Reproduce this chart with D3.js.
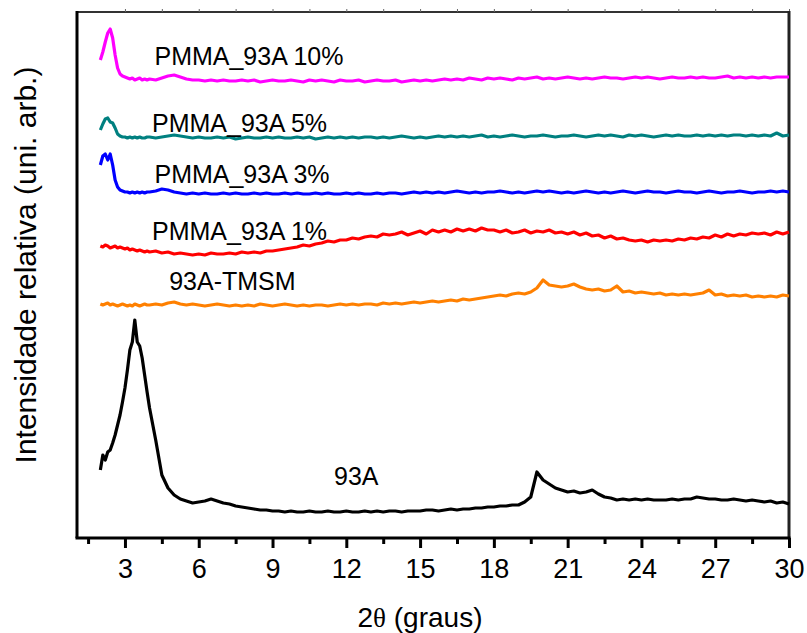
<!DOCTYPE html>
<html lang="en">

<head>
    <meta charset="UTF-8">
    <title>DRX 93A / PMMA</title>
    <script src="https://d3js.org/d3.v7.min.js"></script>

    <style>
        body {
            margin: 0;
            background: #fff;
            font-family: 'Liberation Sans', Arial, sans-serif;
        }

        svg {
            display: block;
        }

        .curve {
            fill: none;
            stroke-width: 3.2;
            stroke-linejoin: round;
        }

        .label {
            font-size: 25px;
            fill: #000;
        }

        .ticks text {
            font-size: 27px;
            font-family: 'Liberation Sans', Arial, sans-serif;
        }
    </style>

</head>

<body>
    <svg></svg>
    <script>
        const width = 807;
        const height = 633;

        // 2theta grid (graus): 0.1 steps up to 3.9, then 0.25 steps
        const twoTheta = [
            2.0, 2.1, 2.2, 2.3, 2.4, 2.5, 2.6, 2.7, 2.8, 2.9,
            3.0, 3.1, 3.2, 3.3, 3.4, 3.5, 3.6, 3.7, 3.8, 3.9,
            4, 4.25, 4.5, 4.75, 5, 5.25, 5.5, 5.75, 6, 6.25, 6.5, 6.75,
            7, 7.25, 7.5, 7.75, 8, 8.25, 8.5, 8.75, 9, 9.25, 9.5, 9.75,
            10, 10.25, 10.5, 10.75, 11, 11.25, 11.5, 11.75, 12, 12.25, 12.5, 12.75,
            13, 13.25, 13.5, 13.75, 14, 14.25, 14.5, 14.75, 15, 15.25, 15.5, 15.75,
            16, 16.25, 16.5, 16.75, 17, 17.25, 17.5, 17.75, 18, 18.25, 18.5, 18.75,
            19, 19.25, 19.5, 19.75, 20, 20.25, 20.5, 20.75, 21, 21.25, 21.5, 21.75,
            22, 22.25, 22.5, 22.75, 23, 23.25, 23.5, 23.75, 24, 24.25, 24.5, 24.75,
            25, 25.25, 25.5, 25.75, 26, 26.25, 26.5, 26.75, 27, 27.25, 27.5, 27.75,
            28, 28.25, 28.5, 28.75, 29, 29.25, 29.5, 29.75, 30
        ];

        // intensities (arb. units, curves already offset as in the figure)
        const pmma10 = [
            478, 486, 496, 505, 509, 500, 483, 470, 464, 462,
            461, 460, 459, 460, 458, 459, 460, 458, 459, 458,
            459, 458, 460, 462, 463, 461, 459, 458, 458, 457, 458, 457,
            458, 457, 457, 458, 457, 458, 456, 457, 458, 457, 457, 458,
            457, 456, 458, 457, 458, 457, 456, 458, 457, 457, 458, 456,
            457, 458, 457, 457, 458, 456, 457, 458, 457, 458, 457, 458,
            459, 458, 459, 458, 460, 459, 458, 460, 459, 460, 459, 458,
            460, 459, 460, 461, 459, 460, 459, 460, 461, 460, 459, 460,
            459, 460, 461, 460, 460, 459, 460, 461, 460, 461, 460, 459,
            460, 461, 460, 460, 461, 460, 461, 460, 460, 461, 462, 460,
            461, 460, 461, 460, 461, 460, 461, 461, 461
        ];
        const pmma5 = [
            408, 414, 419, 420, 416, 415, 410, 404, 402, 401,
            401, 400, 401, 400, 401, 400, 401, 400, 400, 401,
            401, 400, 401, 402, 403, 402, 401, 400, 401, 400, 400, 401,
            400, 401, 399, 400, 401, 400, 400, 401, 400, 401, 400, 400,
            401, 400, 401, 399, 400, 401, 400, 401, 400, 401, 400, 401,
            401, 400, 401, 400, 401, 402, 401, 400, 401, 400, 401, 402,
            401, 402, 401, 402, 401, 402, 403, 401, 402, 401, 402, 403,
            402, 401, 402, 402, 403, 402, 401, 402, 402, 403, 402, 401,
            402, 403, 402, 403, 402, 401, 403, 402, 403, 402, 401, 402,
            403, 402, 403, 402, 402, 403, 402, 403, 402, 403, 402, 403,
            403, 402, 403, 402, 403, 402, 405, 402, 403
        ];
        const pmma3 = [
            373, 382, 384, 378, 384, 373, 358, 351, 348, 347,
            346, 346, 345, 346, 345, 346, 345, 346, 345, 346,
            346, 347, 349, 348, 346, 345, 344, 345, 344, 345, 344, 344,
            345, 344, 345, 344, 344, 345, 344, 345, 344, 344, 345, 344,
            345, 344, 344, 345, 344, 345, 344, 344, 345, 344, 345, 344,
            344, 345, 344, 345, 345, 344, 345, 346, 345, 346, 345, 346,
            345, 346, 347, 346, 345, 346, 345, 346, 346, 347, 346, 345,
            346, 345, 346, 347, 346, 347, 346, 345, 346, 345, 346, 347,
            346, 345, 346, 345, 346, 347, 346, 345, 346, 347, 346, 346,
            345, 346, 347, 346, 346, 345, 346, 347, 346, 345, 346, 346,
            347, 346, 345, 346, 346, 347, 346, 347, 346
        ];
        const pmma1 = [
            292, 291, 293, 292, 290, 291, 292, 290, 291, 290,
            289, 290, 288, 289, 288, 287, 288, 287, 286, 287,
            286, 287, 285, 286, 284, 285, 284, 283, 284, 283, 285, 284,
            284, 285, 284, 286, 285, 286, 285, 287, 287, 288, 289, 290,
            291, 293, 292, 294, 295, 297, 296, 298, 298, 300, 299, 301,
            302, 301, 304, 303, 304, 306, 303, 305, 307, 304, 308, 306,
            308, 306, 309, 307, 309, 307, 310, 308, 308, 306, 308, 305,
            306, 308, 305, 307, 306, 308, 305, 306, 304, 306, 303, 305,
            302, 303, 300, 302, 299, 300, 298, 297, 298, 296, 298, 297,
            298, 297, 299, 298, 300, 299, 301, 300, 303, 301, 304, 302,
            304, 303, 305, 304, 305, 303, 306, 304, 306
        ];
        const tmsm = [
            234, 233, 234, 235, 233, 234, 233, 232, 233, 234,
            233, 232, 233, 232, 234, 233, 232, 233, 234, 233,
            233, 234, 233, 235, 236, 234, 233, 234, 233, 232, 233, 234,
            233, 232, 233, 232, 233, 232, 234, 233, 232, 233, 234, 233,
            232, 233, 232, 233, 233, 232, 233, 234, 233, 234, 233, 234,
            234, 233, 235, 234, 235, 234, 235, 236, 235, 236, 237, 236,
            237, 238, 237, 239, 238, 239, 240, 241, 242, 243, 242, 244,
            245, 244, 246, 250, 258, 253, 252, 251, 252, 254, 251, 249,
            248, 249, 247, 248, 252, 246, 247, 245, 246, 245, 244, 245,
            243, 244, 243, 244, 243, 244, 245, 248, 243, 244, 242, 243,
            242, 243, 241, 242, 241, 242, 241, 243, 242
        ];
        const clay93A = [
            68, 83, 78, 86, 88, 95, 103, 113, 123, 136,
            150, 168, 188, 196, 218, 196, 192, 180, 163, 146,
            130, 98, 63, 50, 43, 39, 37, 35, 36, 37, 39, 37,
            35, 34, 32, 31, 30, 29, 28, 28, 27, 27, 26, 27,
            26, 26, 27, 26, 26, 27, 26, 26, 27, 26, 26, 27,
            26, 27, 26, 27, 27, 26, 27, 27, 27, 28, 28, 27,
            28, 29, 28, 29, 29, 30, 30, 31, 31, 32, 32, 33,
            33, 36, 41, 66, 58, 54, 50, 48, 46, 47, 45, 46,
            48, 44, 41, 40, 38, 39, 38, 39, 38, 39, 38, 38,
            38, 39, 38, 39, 39, 41, 40, 39, 39, 38, 38, 39,
            38, 37, 38, 37, 36, 37, 35, 36, 34
        ];

        const seriesNames = ["PMMA_93A 10%", "PMMA_93A 5%", "PMMA_93A 3%", "PMMA_93A 1%", "93A-TMSM", "93A"];
        const seriesValues = [pmma10, pmma5, pmma3, pmma1, tmsm, clay93A];
        const seriesColors = ["#ff00ff", "#008080", "#0000ff", "#ff0000", "#ff8000", "#000000"];
        // where each name sits: [2theta, intensity]
        const labelAt = [[4.2, 473], [4.1, 406], [4.2, 355], [4.1, 298], [4.8, 248], [11.5, 53]];

        const majorTicks = [3, 6, 9, 12, 15, 18, 21, 24, 27, 30];
        const minorTicks = [1.5, 4.5, 7.5, 10.5, 13.5, 16.5, 19.5, 22.5, 25.5, 28.5];

        const margin = { left: 77, right: 18, top: 12, bottom: 95 };

        const svg = d3.select("svg").attr("width", width).attr("height", height);

        const x = d3.scaleLinear().domain([1.05, 30]).range([margin.left, width - margin.right]);
        const y = d3.scaleLinear().domain([0, 526]).range([height - margin.bottom, margin.top]);

        const x0 = x.range()[0], x1 = x.range()[1];
        const y0 = y.range()[0], y1 = y.range()[1];

        // top and right frame
        svg.append("line").attr("x1", x0).attr("x2", x1).attr("y1", y1).attr("y2", y1)
            .attr("stroke", "#333").attr("stroke-width", 2);
        svg.append("g")
            .attr("transform", `translate(0,${y1})`)
            .call(d3.axisTop(x).tickValues(d3.merge([majorTicks, minorTicks]).filter(v => v > 2)).tickSize(3).tickFormat(""))
            .call(g => g.select(".domain").remove())
            .selectAll("line").attr("stroke", "#666").attr("stroke-width", 1);
        svg.append("line").attr("x1", x1).attr("x2", x1).attr("y1", y1 - 1).attr("y2", y0)
            .attr("stroke", "#222").attr("stroke-width", 3);

        // curves
        const line = d3.line()
            .x((d, i) => x(twoTheta[i]))
            .y(d => y(d));

        svg.append("g").selectAll("path")
            .data(seriesValues)
            .join("path")
            .attr("class", "curve")
            .attr("stroke", (d, i) => seriesColors[i])
            .attr("d", d => line(d.slice(0, twoTheta.length)));

        svg.append("g").selectAll("text")
            .data(seriesNames)
            .join("text")
            .attr("class", "label")
            .attr("x", (d, i) => x(labelAt[i][0]))
            .attr("y", (d, i) => y(labelAt[i][1]))
            .text(d => d);

        // bottom axis
        svg.append("g")
            .attr("transform", `translate(0,${y0})`)
            .call(d3.axisBottom(x).tickValues(minorTicks).tickSize(6).tickSizeOuter(0).tickFormat(""))
            .call(g => g.select(".domain").remove())
            .selectAll("line").attr("stroke", "#000").attr("stroke-width", 3);

        const xAxis = svg.append("g")
            .attr("class", "ticks")
            .attr("transform", `translate(0,${y0})`)
            .call(d3.axisBottom(x).tickValues(majorTicks).tickSize(10).tickSizeOuter(0).tickPadding(11));
        xAxis.select(".domain").remove();
        xAxis.selectAll("line").attr("stroke", "#000").attr("stroke-width", 3);
        xAxis.selectAll("text").attr("fill", "#000");

        svg.append("line").attr("x1", x0 - 1.5).attr("x2", x1 + 1.5).attr("y1", y0).attr("y2", y0)
            .attr("stroke", "#000").attr("stroke-width", 3);
        svg.append("line").attr("x1", x0).attr("x2", x0).attr("y1", y1 - 1).attr("y2", y0)
            .attr("stroke", "#000").attr("stroke-width", 3);

        // axis titles
        const xTitle = svg.append("text")
            .attr("x", 420).attr("y", 627)
            .attr("text-anchor", "middle")
            .style("font-size", "28px");
        xTitle.append("tspan").text("2");
        xTitle.append("tspan").style("font-family", "'Liberation Serif', serif").style("font-size", "27px").text("θ");
        xTitle.append("tspan").text(" (graus)");

        svg.append("text")
            .attr("transform", "translate(36,265) rotate(-90)")
            .attr("text-anchor", "middle")
            .style("font-size", "30px")
            .text("Intensidade relativa (uni. arb.)");
    </script>
</body>

</html>
